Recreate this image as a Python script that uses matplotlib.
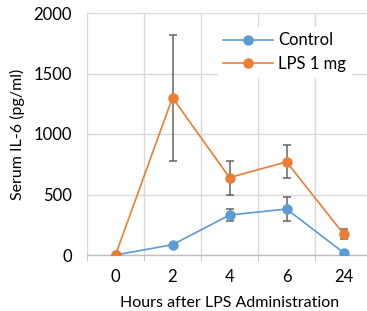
import matplotlib.pyplot as plt
import numpy as np

plt.rcParams['font.family'] = ['Lato', 'DejaVu Sans']

hours = ['0', '2', '4', '6', '24']
control = [0, 85, 330, 380, 20]
controlErr = [0, 10, 50, 100, 8]
lps = [0, 1300, 640, 770, 175]
lpsErr = [0, 520, 140, 135, 40]

x = np.arange(len(hours))

fig = plt.figure(figsize=(3.67, 3.11), dpi=100)
ax = fig.add_axes([87 / 367, 56 / 311, 285 / 367, 242 / 311])

ax.errorbar(x, lps, yerr=lpsErr, fmt='none', ecolor='#646464', elinewidth=1.1, capsize=3, capthick=1.1, zorder=2)
ax.errorbar(x, control, yerr=controlErr, fmt='none', ecolor='#646464', elinewidth=1.1, capsize=3, capthick=1.1, zorder=2)
ax.plot(x, control, '-o', color='#5B9BD5', lw=1.2, markersize=6.5, label='Control', zorder=3)
ax.plot(x, lps, '-o', color='#ED7D31', lw=1.2, markersize=6.5, label='LPS 1 mg', zorder=3)

ax.set_xlim(-0.5, len(hours) - 0.5)
ax.set_ylim(0, 2000)
ax.set_yticks([0, 500, 1000, 1500, 2000])
ax.set_xticks(x)
ax.set_xticklabels(hours)
ax.set_xticks(np.arange(-0.5, len(hours), 1), minor=True)

ax.grid(axis='y', color='#d9d9d9', lw=1)
ax.grid(axis='x', which='minor', color='#d9d9d9', lw=1)
ax.set_axisbelow(True)
for s in ['top', 'right', 'left']:
    ax.spines[s].set_visible(False)
ax.spines['bottom'].set_color('#bfbfbf')
ax.spines['bottom'].set_linewidth(1)

ax.tick_params(axis='y', length=0, labelsize=12, colors='black', pad=11)
ax.tick_params(axis='x', which='major', length=0, labelsize=12, pad=10)
ax.tick_params(axis='x', which='minor', length=4, color='#bfbfbf', direction='out')

ax.set_ylabel('Serum IL-6 (pg/ml)', fontsize=11.5, labelpad=6)
ax.set_xlabel('Hours after LPS Administration', fontsize=11.5, labelpad=8)

leg = ax.legend(loc='upper left', bbox_to_anchor=(0.43, 0.975), frameon=True, fancybox=False,
                edgecolor='white', framealpha=1, fontsize=12, handlelength=3, borderpad=0.3,
                labelspacing=0.45, handletextpad=0.3)

fig.savefig('out.png', dpi=100)
